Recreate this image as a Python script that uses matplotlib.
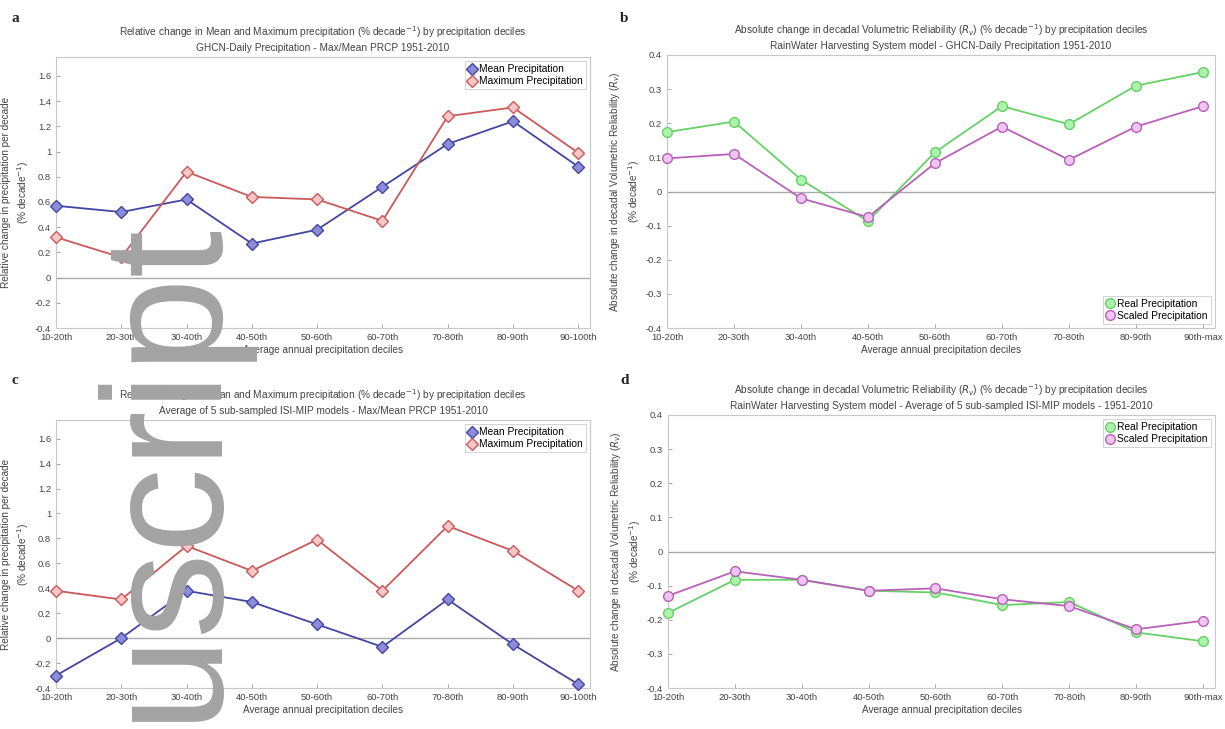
import matplotlib
matplotlib.use("Agg")
import matplotlib.pyplot as plt
import numpy as np

plt.rcParams['font.family'] = ['Liberation Sans', 'DejaVu Sans']

deciles_a = ["10-20th", "20-30th", "30-40th", "40-50th", "50-60th", "60-70th", "70-80th", "80-90th", "90-100th"]
deciles_b = ["10-20th", "20-30th", "30-40th", "40-50th", "50-60th", "60-70th", "70-80th", "80-90th", "90th-max"]

a_mean = [0.57, 0.52, 0.62, 0.27, 0.38, 0.72, 1.06, 1.24, 0.88]
a_max = [0.32, 0.16, 0.84, 0.64, 0.62, 0.45, 1.28, 1.35, 0.99]

b_real = [0.174, 0.205, 0.035, -0.087, 0.115, 0.25, 0.197, 0.31, 0.35]
b_scaled = [0.097, 0.11, -0.02, -0.075, 0.083, 0.19, 0.093, 0.19, 0.25]

c_mean = [-0.30, 0.0, 0.38, 0.29, 0.11, -0.07, 0.31, -0.05, -0.37]
c_max = [0.38, 0.31, 0.74, 0.54, 0.79, 0.38, 0.90, 0.70, 0.38]

d_real = [-0.18, -0.083, -0.083, -0.115, -0.12, -0.157, -0.148, -0.237, -0.263]
d_scaled = [-0.13, -0.058, -0.083, -0.115, -0.108, -0.14, -0.16, -0.228, -0.203]

W, H = 1225, 729
fig = plt.figure(figsize=(W / 100, H / 100), dpi=100)


def add_ax(left, right, top, bottom):
    return fig.add_axes([left / W, 1 - bottom / H, (right - left) / W, (bottom - top) / H])


BLUE = (0.27, 0.27, 0.64)
BLUE_F = (0.55, 0.55, 0.85)
RED = (0.80, 0.35, 0.35)
RED_F = (0.96, 0.78, 0.78)
GREEN = (0.40, 0.82, 0.40)
GREEN_F = (0.68, 0.95, 0.68)
MAG = (0.72, 0.38, 0.72)
MAG_F = (0.93, 0.77, 0.95)

FS_TICK = 6.8
FS_LAB = 7.2
FS_TITLE = 7.3
FS_LEG = 7.4


def style(ax, labels, ylim, yticks, ylabel, title):
    x = np.arange(1, len(labels) + 1)
    ax.set_xlim(1, 9.18)
    ax.set_ylim(*ylim)
    ax.set_xticks(x)
    ax.set_xticklabels(labels, fontsize=FS_TICK, color='#444444')
    ax.set_yticks(yticks)
    ax.set_yticklabels([('%g' % t) for t in yticks], fontsize=FS_TICK, color='#444444')
    ax.axhline(0, color='#aaaaaa', lw=1.0, zorder=1)
    for s in ax.spines.values():
        s.set_color('#c8c8c8')
        s.set_linewidth(0.8)
    ax.tick_params(axis='both', colors='#999999', labelcolor='#444444', length=3, width=0.6, direction='in')
    ax.set_xlabel("Average annual precipitation deciles", fontsize=FS_LAB, color='#444444', labelpad=2)
    ax.set_ylabel(ylabel, fontsize=FS_LAB, color='#444444', labelpad=3, linespacing=1.3)
    ax.set_title(title, fontsize=FS_TITLE, color='#444444', pad=4, linespacing=1.4)
    return x


ylab_rel = "Relative change in precipitation per decade\n(% decade$^{-1}$)"
ylab_abs = "Absolute change in decadal Volumetric Reliability ($R_v$)\n(% decade$^{-1}$)"
title_a = ("Relative change in Mean and Maximum precipitation (% decade$^{-1}$) by precipitation deciles\n"
           "GHCN-Daily Precipitation - Max/Mean PRCP 1951-2010")
title_b = ("Absolute change in decadal Volumetric Reliability ($R_v$) (% decade$^{-1}$) by precipitation deciles\n"
           "RainWater Harvesting System model - GHCN-Daily Precipitation 1951-2010")
title_c = ("Relative change in Mean and Maximum precipitation (% decade$^{-1}$) by precipitation deciles\n"
           "Average of 5 sub-sampled ISI-MIP models - Max/Mean PRCP 1951-2010")
title_d = ("Absolute change in decadal Volumetric Reliability ($R_v$) (% decade$^{-1}$) by precipitation deciles\n"
           "RainWater Harvesting System model - Average of 5 sub-sampled ISI-MIP models - 1951-2010")

yt_rel = [-0.4, -0.2, 0, 0.2, 0.4, 0.6, 0.8, 1, 1.2, 1.4, 1.6]
yt_abs = [-0.4, -0.3, -0.2, -0.1, 0, 0.1, 0.2, 0.3, 0.4]


def finish_legend(ax, loc):
    leg = ax.legend(loc=loc, fontsize=FS_LEG, handlelength=0.8, handletextpad=0.3, borderpad=0.3,
                    labelspacing=0.2, fancybox=False, framealpha=1, borderaxespad=0.4)
    leg.get_frame().set_edgecolor('#cccccc')
    leg.get_frame().set_linewidth(0.6)


def plot_prec(ax, mean, mx, loc):
    x = np.arange(1, len(mean) + 1)
    ax.plot(x, mean, '-D', color=BLUE, mfc=BLUE_F, mec=BLUE, ms=6, lw=1.3, label='Mean Precipitation',
            clip_on=False, zorder=3)
    ax.plot(x, mx, '-D', color=RED, mfc=RED_F, mec=RED, ms=6, lw=1.3, label='Maximum Precipitation',
            clip_on=False, zorder=3)
    finish_legend(ax, loc)


def plot_rel(ax, real, scaled, loc):
    x = np.arange(1, len(real) + 1)
    ax.plot(x, real, '-o', color=GREEN, mfc=GREEN_F, mec=GREEN, ms=7, lw=1.3, label='Real Precipitation',
            clip_on=False, zorder=3)
    ax.plot(x, scaled, '-o', color=MAG, mfc=MAG_F, mec=MAG, ms=7, lw=1.3, label='Scaled Precipitation',
            clip_on=False, zorder=3)
    finish_legend(ax, loc)


ax_a = add_ax(56, 590, 57, 328)
style(ax_a, deciles_a, (-0.4, 1.75), yt_rel, ylab_rel, title_a)
plot_prec(ax_a, a_mean, a_max, 'upper right')

ax_b = add_ax(667, 1215, 55, 328)
style(ax_b, deciles_b, (-0.4, 0.4), yt_abs, ylab_abs, title_b)
plot_rel(ax_b, b_real, b_scaled, 'lower right')

ax_c = add_ax(56, 590, 420, 688)
style(ax_c, deciles_a, (-0.4, 1.75), yt_rel, ylab_rel, title_c)
plot_prec(ax_c, c_mean, c_max, 'upper right')

ax_d = add_ax(668, 1215, 415, 688)
style(ax_d, deciles_b, (-0.4, 0.4), yt_abs, ylab_abs, title_d)
plot_rel(ax_d, d_real, d_scaled, 'upper right')

# panel letters
for lab, px, py in [("a", 12, 18), ("b", 620, 18), ("c", 12, 380), ("d", 620, 380)]:
    fig.text(px / W, 1 - py / H, lab, fontsize=11, fontweight='bold', family='Liberation Serif',
             ha='left', va='center', color='#222222')

# manuscript watermark
fig.text(247 / W, 8 / H, "uscript", rotation=90, fontsize=123, color='#a3a3a3',
         family='Liberation Sans', ha='right', va='bottom', zorder=10)

fig.savefig("out.png", dpi=100, facecolor='white')
